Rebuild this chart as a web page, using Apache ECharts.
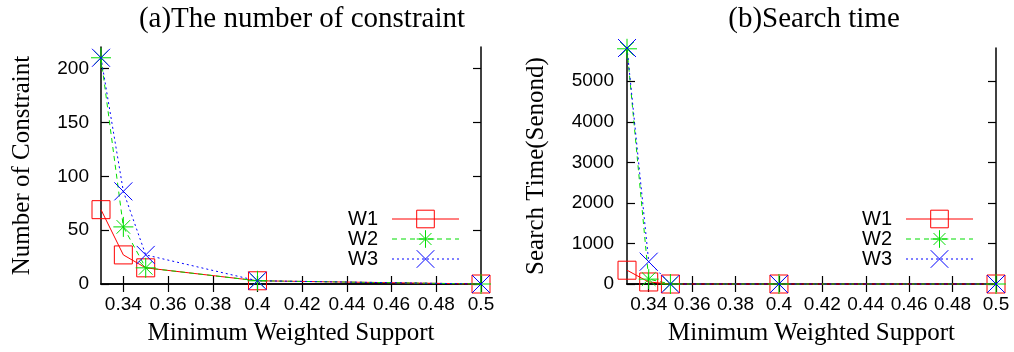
<!DOCTYPE html>
<html>
<head>
<meta charset="utf-8">
<script src="https://cdn.jsdelivr.net/npm/echarts@6/dist/echarts.min.js"></script>
<style>
  html, body { margin: 0; padding: 0; background: #fff; }
  #chart { width: 1014px; height: 352px; }
</style>
</head>
<body>
<div id="chart"></div>
<script>
const supportValues = [0.33, 0.34, 0.35, 0.4, 0.5];
const xTickValues = [0.34, 0.36, 0.38, 0.4, 0.42, 0.44, 0.46, 0.48, 0.5];

const constraintW1 = [69, 27, 15, 3, 0];
const constraintW2 = [210, 53, 15, 3, 0];
const constraintW3 = [210, 86, 27, 3, 0];
const constraintTicks = [0, 50, 100, 150, 200];

const timeW1 = [340, 50, 0, 0, 0];
const timeW2 = [5800, 120, 0, 0, 0];
const timeW3 = [5820, 550, 0, 0, 0];
const timeTicks = [0, 1000, 2000, 3000, 4000, 5000];

const seriesNames = ['W1', 'W2', 'W3'];

const RED = '#ff0000';
const GREEN = '#00dd00';
const BLUE = '#0000ff';

const SQUARE = 'path://M0,0H10V10H0Z';
const STAR = 'path://M5,0V10M0,5H10M1.6,1.6L8.4,8.4M8.4,1.6L1.6,8.4';
const CROSS = 'path://M0,0L10,10M10,0L0,10';

const styles = [
  { color: RED, symbol: SQUARE, size: 18, type: 'solid' },
  { color: GREEN, symbol: STAR, size: 20, type: [5, 4] },
  { color: BLUE, symbol: CROSS, size: 18, type: [2, 3] },
];

const tickFont = { fontFamily: 'Liberation Sans', fontSize: 19, color: '#000' };
const serifName = { fontFamily: 'Liberation Serif', fontSize: 25, color: '#000' };

function pairs(vals) {
  return supportValues.map((x, i) => [x, vals[i]]);
}

function makeSeries(name, vals, idx, style) {
  return {
    name: name,
    type: 'line',
    xAxisIndex: idx * 2,
    yAxisIndex: idx * 2,
    data: pairs(vals),
    symbol: style.symbol,
    symbolSize: style.size,
    clip: false,
    animation: false,
    lineStyle: { color: style.color, width: 1, type: style.type },
    itemStyle: { color: 'rgba(0,0,0,0)', borderColor: style.color, borderWidth: 1 },
    emphasis: { disabled: true },
  };
}

function xAxes(gridIndex) {
  const base = {
    type: 'value',
    gridIndex: gridIndex,
    min: 0.33,
    max: 0.5,
    splitLine: { show: false },
    axisLine: { lineStyle: { color: '#000', width: 1.5 } },
    axisTick: { inside: true, length: 8, customValues: xTickValues, lineStyle: { color: '#000', width: 1.2 } },
  };
  return [
    Object.assign({}, base, {
      position: 'bottom',
      name: 'Minimum Weighted Support',
      nameLocation: 'middle',
      nameGap: 37,
      nameTextStyle: serifName,
      axisLabel: Object.assign({ margin: 11, customValues: xTickValues, formatter: v => String(+v.toFixed(2)) }, tickFont),
    }),
    Object.assign({}, base, { position: 'top', axisLabel: { show: false } }),
  ];
}

function yAxes(gridIndex, max, ticks, name, gap, margin) {
  const base = {
    type: 'value',
    gridIndex: gridIndex,
    min: 0,
    max: max,
    splitLine: { show: false },
    axisLine: { lineStyle: { color: '#000', width: 1.5 } },
    axisTick: { inside: true, length: 8, customValues: ticks, lineStyle: { color: '#000', width: 1.2 } },
  };
  return [
    Object.assign({}, base, {
      position: 'left',
      name: name,
      nameLocation: 'middle',
      nameGap: gap,
      nameTextStyle: serifName,
      axisLabel: Object.assign({ margin: margin, customValues: ticks, formatter: v => String(v) }, tickFont),
    }),
    Object.assign({}, base, { position: 'right', axisLabel: { show: false } }),
  ];
}

function legendAt(left) {
  return {
    orient: 'vertical',
    left: left,
    top: 209,
    padding: 0,
    align: 'right',
    itemWidth: 67,
    itemHeight: 22,
    itemGap: 0,
    data: seriesNames,
    selectedMode: false,
    itemStyle: { borderWidth: 1 },
    lineStyle: { width: 1 },
    textStyle: { fontFamily: 'Liberation Sans', fontSize: 20, color: '#000', padding: [0, 9, 0, 0] },
  };
}

const chart = echarts.init(document.getElementById('chart'));

const series = [];
[constraintW1, constraintW2, constraintW3].forEach((v, i) => series.push(makeSeries(seriesNames[i], v, 0, styles[i])));
[timeW1, timeW2, timeW3].forEach((v, i) => series.push(makeSeries(seriesNames[i], v, 1, styles[i])));

const titleFont = { fontFamily: 'Liberation Serif', fontSize: 29, fontWeight: 'normal', color: '#000' };

chart.setOption({
  animation: false,
  title: [
    { text: '(a)The number of constraint', left: 297, top: 0, textAlign: 'center', textStyle: titleFont },
    { text: '(b)Search time', left: 809, top: 0, textAlign: 'center', textStyle: titleFont },
  ],
  grid: [
    { left: 101, top: 47, width: 380, height: 237 },
    { left: 627, top: 48, width: 369, height: 236 },
  ],
  xAxis: [...xAxes(0), ...xAxes(1)],
  yAxis: [
    ...yAxes(0, 220, constraintTicks, 'Number of Constraint', 66, 12),
    ...yAxes(1, 5820, timeTicks, 'Search Time(Senond)', 78, 13),
  ],
  legend: [legendAt(348), legendAt(862)],
  series: series,
});
</script>
</body>
</html>
